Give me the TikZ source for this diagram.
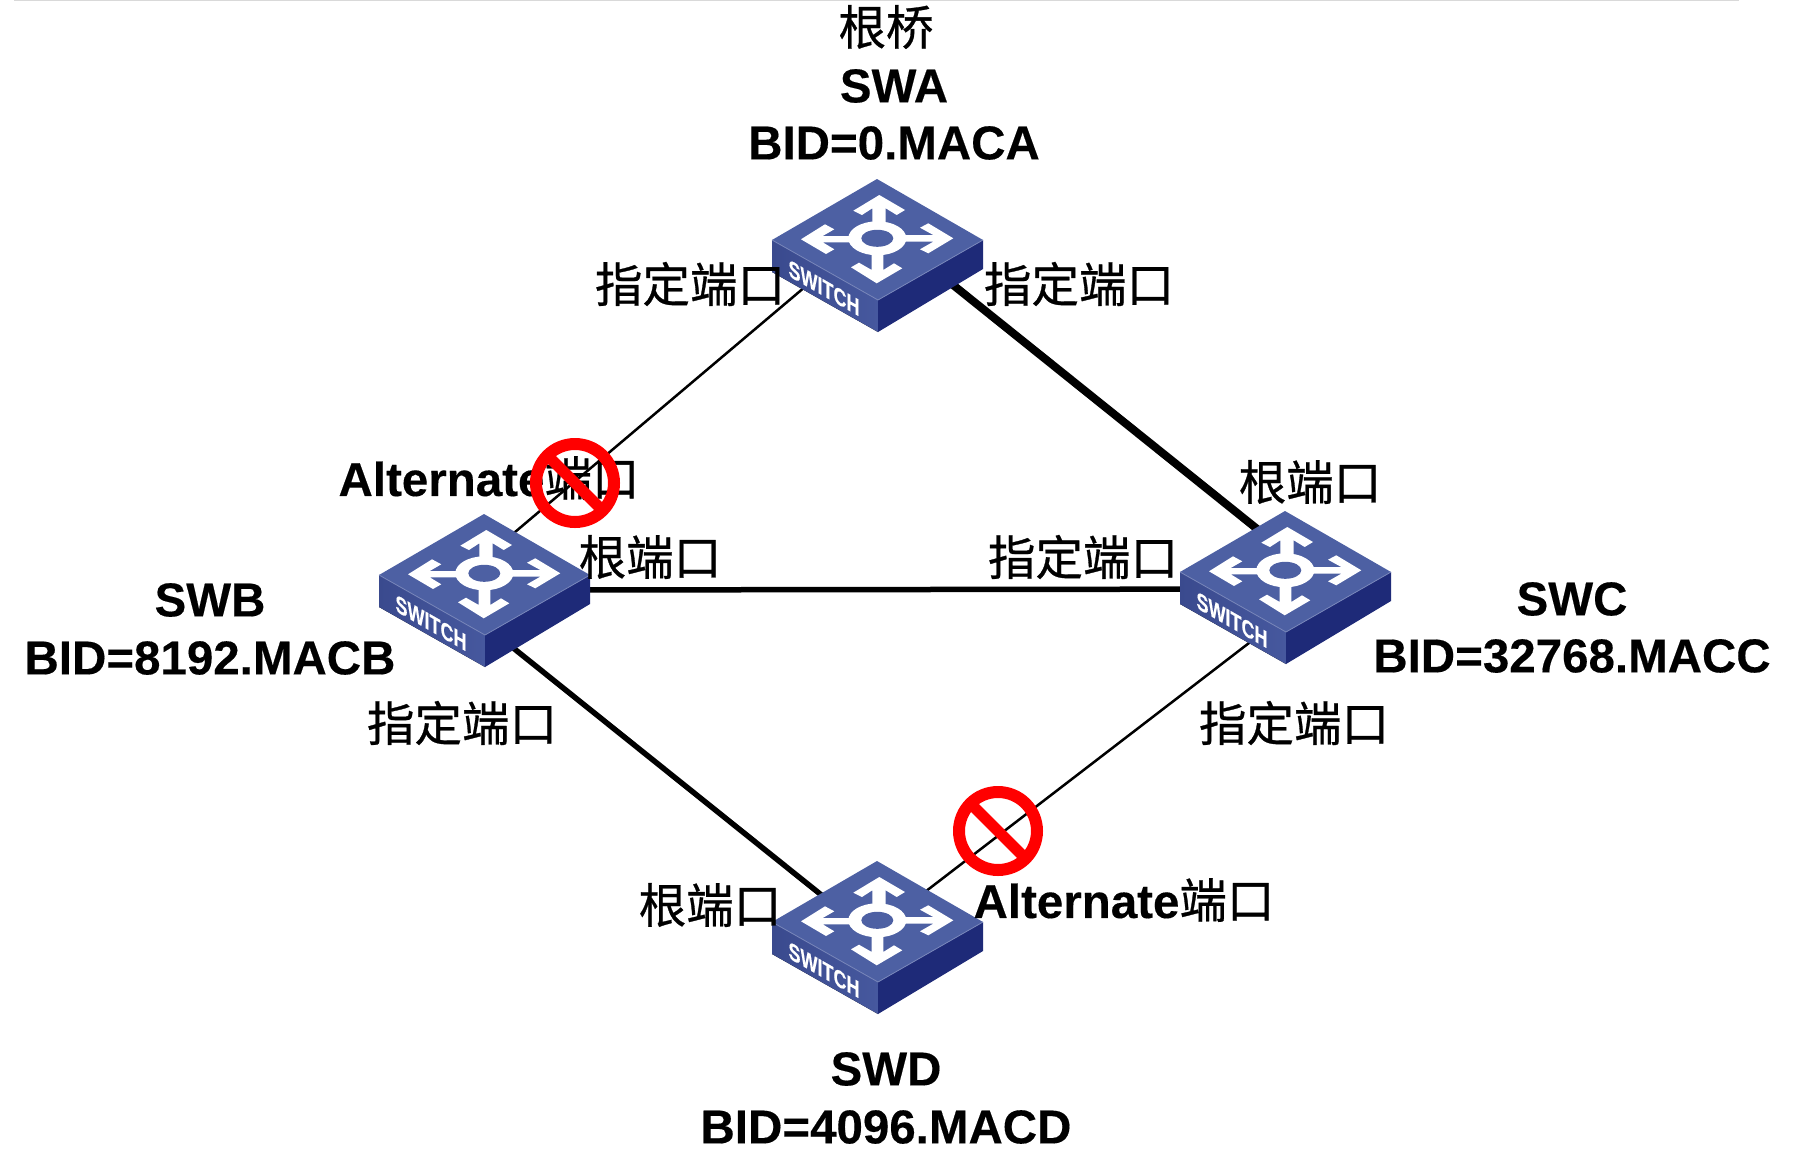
\documentclass[tikz,border=0pt]{standalone}
\usepackage{fontspec}
\setmainfont{Liberation Sans}[BoldFeatures={FakeBold=0.3}]
\newfontfamily\cjk{Noto Sans CJK SC}[BoldFont={Noto Sans CJK SC},BoldFeatures={FakeBold=0.6}]
\definecolor{swtop}{HTML}{4D60A3}
\definecolor{swleft}{HTML}{3A4A8E}
\definecolor{swleftb}{HTML}{46589E}
\definecolor{swright}{HTML}{1E2A78}
\definecolor{swedge}{HTML}{7886BA}
\tikzset{
  switchport/.style={minimum width=120pt,minimum height=80pt,inner sep=0pt},
  lbl/.style={font=\fontsize{47.5}{57}\selectfont\bfseries,inner sep=0pt},
  thinlink/.style={line width=2.5pt},
  thicklink/.style={line width=5.5pt},
  heavylink/.style={line width=8pt},
  nosign/.style={draw=red,line width=12pt,circle,minimum size=78pt,inner sep=0pt,
    path picture={\draw[red,line width=11pt] (path picture bounding box.north west) -- (path picture bounding box.south east);}},
  switchicon/.pic={
    \begin{scope}[shift={(0,-15)}]
      % Body
      \fill[left color=swleft,right color=swleftb] (-105,0) -- (1,60) -- (1,92) -- (-105,32) -- cycle;
      \fill[swright] (106,0) -- (106,29) -- (1,92) -- (1,60) -- cycle;
      \fill[swtop] (-105,0) -- (0,-61) -- (106,0) -- (1,60) -- cycle;
      \draw[swedge,line width=.8pt] (-105,0) -- (1,60) -- (106,0);
      % Arrows
      \fill[white] (2.3,-45) -- (-23.7,-29.3) -- (-15,-25) -- (-4.7,-31.7) -- (-4.7,-16) -- (8.7,-16) -- (8.7,-31.7) -- (19.7,-25) -- (28,-30) -- cycle;
      \fill[white] (-0.3,43.3) -- (-26,27.3) -- (-18,22.7) -- (-5.3,30) -- (-5.3,13) -- (6.3,13) -- (6.3,30) -- (17,23.3) -- (25.3,28.3) -- cycle;
      \fill[white] (-76,-0.7) -- (-52,-15.7) -- (-42.7,-10.7) -- (-54.3,-4) -- (-27,-4) -- (-27,2.3) -- (-54.3,2.3) -- (-42.7,9.3) -- (-51,14) -- cycle;
      \fill[white] (76.3,-1.7) -- (51.3,-16.7) -- (43,-12.3) -- (56.3,-5) -- (28,-5) -- (28,1.7) -- (56.3,1.7) -- (43,9.3) -- (51.3,13.3) -- cycle;
      \fill[white] (0.3,-1.7) ellipse (29 and 17);
      \fill[swtop] (0.3,-1.7) ellipse (16 and 8.5);
      \node[white,inner sep=0pt,font=\fontsize{24}{24}\selectfont\bfseries,cm={.75,-.43,0,1,(0,0)}] at (-53,48) {SWITCH};
    \end{scope}
  }
}
\begin{document}
\begin{tikzpicture}[x=1pt,y=-1pt]
  \useasboundingbox (0,0) rectangle (1794,1157);
  \draw[black!15,line width=2pt] (14,0) -- (1739,0);

  % Switches
  \node[switchport] (swa) at (877,255) {};
  \node[switchport] (swb) at (484,590) {};
  \node[switchport] (swc) at (1285,587) {};
  \node[switchport] (swd) at (877,937) {};

  % Links
  \draw[thinlink] (swa.200) -- (swb.76);
  \draw[heavylink] (swa.344) -- (swc.98.5);
  \draw[thicklink] (swb.east) -- (swc.182.86);
  \draw[thicklink] (swb.280) -- (swd.143);
  \draw[thinlink] (swc.249.4) -- (swd.44.3);

  \pic at (swa) {switchicon};
  \pic at (swb) {switchicon};
  \pic at (swc) {switchicon};
  \pic at (swd) {switchicon};

  % Switch names
  \node[lbl] (roota) at (886,27) {\cjk 根桥};
  \node[lbl] (namea) at (894,86) {SWA};
  \node[lbl] (bida) at (894,143) {BID=0.MACA};
  \node[lbl] (nameb) at (210,600) {SWB};
  \node[lbl] (bidb) at (210,658) {BID=8192.MACB};
  \node[lbl] (namec) at (1572,599) {SWC};
  \node[lbl] (bidc) at (1572,656) {BID=32768.MACC};
  \node[lbl] (named) at (886,1069) {SWD};
  \node[lbl] (bidd) at (886,1127) {BID=4096.MACD};

  % Port roles
  \node[lbl] (pa1) at (690,284) {\cjk 指定端口};
  \node[lbl] (pa2) at (1079,284) {\cjk 指定端口};
  \node[lbl] (pb1) at (489,478) {Alternate{\cjk 端口}};
  \node[lbl] (pb2) at (650,557) {\cjk 根端口};
  \node[lbl] (pb3) at (462,723) {\cjk 指定端口};
  \node[lbl] (pc1) at (1310,482) {\cjk 根端口};
  \node[lbl] (pc2) at (1083,557) {\cjk 指定端口};
  \node[lbl] (pc3) at (1294,723) {\cjk 指定端口};
  \node[lbl] (pd1) at (710,905) {\cjk 根端口};
  \node[lbl] (pd2) at (1124,900) {Alternate{\cjk 端口}};

  % Blocked ports
  \node[nosign] (blockb) at (575,483) {};
  \node[nosign] (blockd) at (998,831) {};
\end{tikzpicture}
\end{document}
